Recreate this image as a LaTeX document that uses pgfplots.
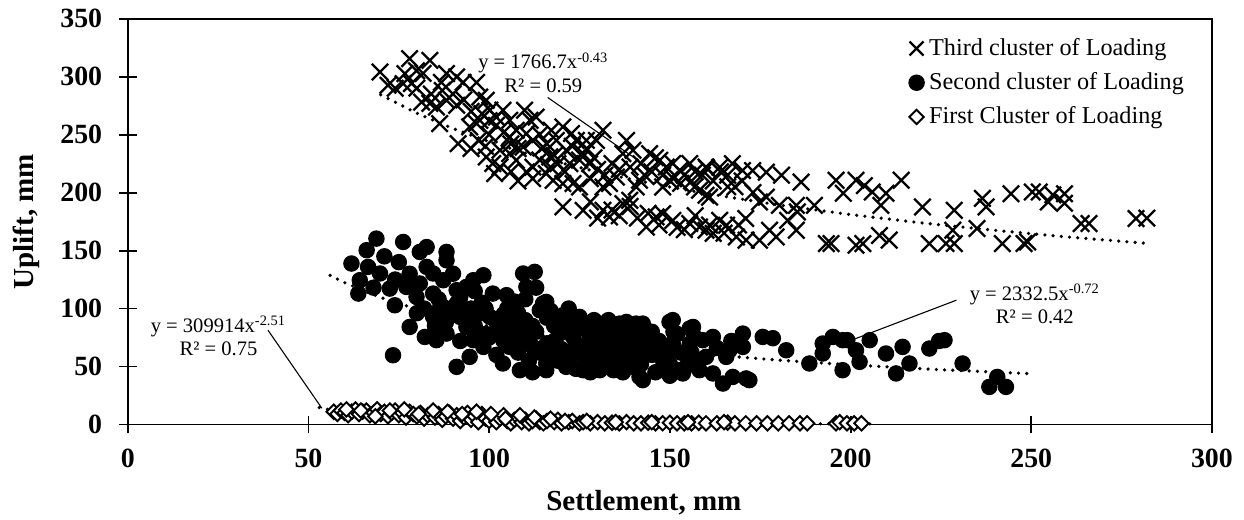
\documentclass[border=0pt]{standalone}
\usepackage{fontspec}
\setmainfont{Liberation Serif}
\usepackage{pgfplots}
\pgfplotsset{compat=1.18}
\begin{document}
\begin{tikzpicture}
\useasboundingbox (-52.8pt,-39.1pt) rectangle (461.25pt,175.4pt);
\begin{axis}[
 at={(0pt,0pt)}, anchor=south west,
 scale only axis, width=448pt, height=167.7pt,
 xmin=0,xmax=300,ymin=0,ymax=350,
 xtick={0,50,...,300}, ytick={0,50,...,350},
 tick pos=left, tick align=center, major tick length=7.3pt,
 axis line style={line width=0.8pt},
 every tick/.style={line width=0.8pt, black},
 /pgf/number format/assume math mode=true,
 ticklabel style={font=\fontsize{11.5}{13}\selectfont\bfseries},
 xticklabel style={yshift=-3.0pt},
 yticklabel style={xshift=-3.4pt},
 xlabel={Settlement, mm}, ylabel={Uplift, mm},
 label style={font=\fontsize{12}{14}\selectfont\bfseries},
 xlabel style={at={(axis description cs:0.476,-0.2111)}, anchor=base},
 ylabel style={at={(axis description cs:-0.0871,0.5)}, anchor=base},
 legend style={draw=none, fill=none, at={(0.72,0.965)}, anchor=north west,
   font=\fontsize{10}{12}\selectfont, cells={anchor=west}, row sep=1.6pt, inner sep=0pt},
 legend image code/.code={\draw[#1] plot coordinates {(0.1cm,0cm)};},
 clip=false,
]
% leader lines (under markers)
\draw[line width=0.45pt] (axis cs:116.2,282) -- (axis cs:142,226);
\draw[line width=0.45pt] (axis cs:229.3,107.2) -- (axis cs:198,70);
\draw[line width=0.45pt] (axis cs:38.8,81.3) -- (axis cs:53.7,14);

\addplot[only marks, mark=x, mark size=4.8pt, line width=0.95pt, black,
  legend image post style={mark size=4.1pt}] coordinates {
(69.8,304)(76.7,302.6)(78,315.5)(79.9,305)(81.7,302.8)(83.6,314)(88.2,302.6)(91,299.7)
(72,292.5)(76.2,294)(78.5,294)(86.8,295)(92.8,295)(96.5,295)(81.3,278)(83.6,277)
(85.4,273.8)(88.2,279.6)(91,275.3)(86.3,259.5)(91.4,242.2)(97.4,282.4)(99.2,279.6)
(100.2,271)(96.5,259.5)(94.6,256.6)(97.4,262.3)(103.8,271)(105.7,262.3)(109.8,271)
(111.3,262.3)(113,265)(107.5,253.7)(110.3,250.9)(105.7,248)(99.2,230.7)(101,225)
(103,236.5)(101.5,216.4)(105.7,233.6)(109.4,239.3)(112.1,222)(107.5,227.8)(110.3,217.8)
(117.2,253.7)(120.4,256.6)(122.8,250.9)(118.6,245)(124.1,245)(126.9,245)(129.7,245)
(131.5,253.7)(121.3,236.5)(116.8,230.7)(114.9,239.3)(125.9,233.6)(127.8,225)(122.3,225)
(115.8,216.4)(117.7,210.6)(120.4,207.8)(123.2,207.8)(125,204.8)(120.4,187.6)(126,184.7)
(131.5,204.8)(133.3,207.8)(131.5,184.7)(133.3,179)(137,190.5)(138.9,193.3)(140.7,204.8)
(141.6,210.6)(135.2,213.4)(138,245)(139.8,236.5)(137,233.6)(144.4,233.6)(147.2,227.8)
(149,222)(150.8,225)(152.7,219.2)(155.5,225)(149.9,210.6)(148,204.8)(146.2,179)
(143.5,170.3)(148,181.9)(150.8,176)(155.5,173.3)(158.2,170.3)(158.2,202)(160,222)
(156.8,204.8)
(160.2,221)(163.8,221.8)(167.3,225)(170.1,219)(172.9,219)(176.7,217.5)(180.9,215)
(186.3,209)(196,210.6)(198,199.4)(201.5,210.6)(203.8,206)(206,200.5)(209.8,199.4)
(208.4,189)(214,210.6)(219.9,187.6)(228.7,184.7)(236.5,195)(237.5,187.6)(244.4,199)
(250.3,200.5)(252.2,200.5)(256,198)(259.2,199)(259.2,190.8)(254.7,191.9)(263.8,173.3)
(266,173.3)(279,177.6)(282,178)(193.3,156)(194.6,156)(201.5,154.6)(203.4,156)(208,163)
(210.7,159)(221.8,156)(226.4,156)(228.7,156)(228.3,167.5)(235,169)(242,156)(248,156)
(249,157.4)(160,167.5)(162,164.8)(163.8,176)(165.7,171.8)(168.4,161.7)(171,177.6)
(171.1,158.9)(174.8,158.9)(177.6,167.5)(179.4,161.7)(182.6,176)(185,167.5)(185.3,183.3)
(174.8,191.9)(176.7,196)(180.3,189)(185,189)(190,189)(161,196)(160,197.7)
(74,290)(80,290)(84,285)(87,288)(90,285)(93,280)(95,270)(98,268)(102,258)(104,252)
(106,242)(108,238)(112,245)(114,250)(116,242)(118,232)(119,225)(121,218)(123,240)
(125,228)(127,238)(128,212)(129,230)(130,220)(132,215)(134,225)(136,220)(139,222)
(142,225)(143,215)(145,218)(146,230)(148,215)(151,212)(153,208)(154,215)(156,210)
(157,218)(159,215)(162,210)(164,218)(166,215)(168,205)(103,222)(106,218)(108,210)
(112,212)(114,228)(117,222)(128,192)(130,178)(134,185)(136,180)(139,188)(141,178)
(144,182)(147,172)(152,170)(154,168)(157,180)(161,172)(165,165)(169,172)(166,205)
(170,210)(173,200)(100,262)(102,265)(100,250)(97,245)(95,238)(99,240)
};
\addlegendentry{Third cluster of Loading}

\addplot[only marks, mark=*, mark size=3.2pt, black] coordinates {
(68.8,160.3)(76.2,157.4)(82.7,153)(80.8,148.8)(88.2,148.8)(88.2,141.6)(66.1,150.3)
(61.9,138.8)(66.5,135.9)(69.8,130.2)(64.2,124.4)(63.8,112.9)(72.5,117.2)(73.9,102.8)
(77.1,118.6)(80.8,121.6)(82.7,135.9)(84.5,130.2)(87.3,124.4)(84.5,112.9)(79.9,110)
(78,84.1)(73.4,59.7)(82.2,75.5)(85.4,72.7)(88.2,78.4)(84.5,92.8)(87.3,101.4)(91,115.8)
(93.7,118.6)(95.6,124.4)(98.4,128.7)(91,104.3)(91.9,92.8)(93.7,84.1)(91,49.7)(94.6,58.3)
(95.6,72.7)(98.4,66.9)(97.4,95.7)(101,112.9)(104.8,111.5)(100.2,92.8)(103,81.3)
(103.8,52.6)(108.5,46.8)(105.7,66.9)(109.4,130.2)(112.6,131.6)(110.3,118.6)(114,98.5)
(115.8,105.7)(107.5,87)(110.3,78.4)(112.1,66.9)(115.8,52.6)(115.8,46.8)(119.5,89.9)
(121.3,89.9)(125,92.8)(119.5,78.4)(123.2,75.5)(126.9,81.3)(129.7,84.1)(132.4,81.3)
(130.6,69.8)(133.3,72.7)(136.1,87)(139,84.1)(121.3,49.7)(126,46.8)(130.6,46.8)
(134.4,46.8)(127.8,58.3)(132.4,58.3)(118.6,61.2)(139.8,52.6)(114.9,104.3)(120.4,94.2)
(130.6,87)(138,88.4)(142.5,87)(149.9,88.4)(156.4,84.1)(161.9,75.5)(170.2,78.4)
(175.7,75.5)(178.5,74.4)(136.1,66.9)(141.6,64)(146.2,66.9)(150.8,69.8)(155.5,69.8)
(160,58.3)(165.6,58.3)(170.2,66.9)(134.3,49.7)(139.8,49.7)(142.5,38.2)(148.1,46.8)
(152.7,46.8)(158.2,46.8)(164.7,35.3)(167.4,41)(172,38.2)(161.9,44)(140.7,87)(142.5,64)
(141.6,41)(150.8,90)(155.5,82.8)(159.1,72.7)(148.1,55.4)(153.6,44)(166.5,64)(171.1,39.7)
(182.2,64)(188.6,52.6)(192.3,69.8)(195.1,75.5)(197.8,72.7)(192.3,61.2)(197.8,46.8)
(201.5,64)(202.5,54)(205.3,72.7)(209.8,61.2)(212.6,44)(214.4,66.9)(216.3,52.6)
(221.8,65.5)(226,72.7)(231,52.6)(238.4,32.4)(243,32.4)(240.6,41)(199.1,72.7)(224.5,72)
(100,75)(102,60)(104,95)(106,78)(108,62)(110,90)(111,55)(113,80)(116,70)(117,58)
(118,85)(120,65)(122,55)(124,70)(126,60)(128,75)(129,52)(131,62)(133,90)(135,58)
(137,75)(138,62)(140,70)(142,52)(144,78)(145,60)(147,72)(149,58)(151,80)(153,62)
(155,52)(157,75)(112,45)(128,45)(137,45)(146,45)(150,42)(154,48)(105,100)(98,105)
(95,100)(92,72)(89,95)(86,98)(80,96)(85,85)(82,100)(88,88)(107,106)(96,85)(99,78)
(96,115)(99,100)(102,88)(104,72)(106,90)(109,70)(112,85)(114,62)(116,92)(118,72)
(121,82)(123,62)(125,84)(127,68)(129,90)(131,75)(134,64)(136,78)(138,56)(140,78)
(143,72)(145,80)(148,64)(150,52)(152,78)(156,62)(158,54)(163,66)(167,72)(110,108)
(113,118)(108,96)(119,55)(124,48)(132,50)(117,98)(122,100)(86,108)(90,130)(92,110)
(94,96)(78,130)(75,140)(71,145)(74,125)(68,118)
};
\addlegendentry{Second cluster of Loading}

\addplot[only marks, mark=square*, mark size=2.1pt, mark options={rotate=45, fill=white, draw=black, line width=0.8pt}] coordinates {
(57,11)(58,9)(59,12)(60,10)(61,8)(62,11)(63,13)(64,9)(65,11)(66,12)(67,8)(68,10)(69,13)
(70,9)(71,11)(72,7)(73,10)(74,12)(75,8)(76,10)(77,6)(78,11)(79,9)(80,7)(81,10)(82,5)
(83,8)(84,10)(85,6)(86,9)(87,4)(88,7)(89,10)(90,5)(91,8)(92,3)(93,6)(94,10)(95,4)(96,7)
(97,2)(98,9)(99,5)(100,3)(101,7)(102,2)(103,5)(104,8)(105,3)(106,1)(107,4)(108,6)
(109,2)(110,4)(111,1)(112,3)(113,5)(114,2)(115,1)(116,3)(118,2)(119,4)(120,1)(122,2)
(123,3)(125,1)(126,2)(128,1)(130,2)(132,1)(134,1.5)(136,1)(138,2)(140,1)(142,1)
(144,1.5)(146,1)(148,1)(150,1.5)(152,1)(154,1)(156,1)(158,1.5)(160,1)(163,1)(166,1.5)
(168,1)(171,1)(174,1)(177,1)(180,1)(183,1)(186,1)(188,1)(196,1)(197,2)(199,1)(201,1)(203,1)
(60.5,13)(64.5,12)(68.5,7)(72.5,12)(76.5,13)(80.5,9)(84.5,12)(88.5,11)(92.5,9)(96.5,11)
(100.5,9)(104.5,5)(108.5,8)(112.5,6)(117,5)(121,3)(127,3)(135,2)(145,2)(155,2)(165,2)
};
\addlegendentry{First Cluster of Loading}

% power trendlines (values of the fitted curves)
\addplot[forget plot, black, line width=1.5pt, line cap=round, dash pattern=on 0pt off 3.4pt] coordinates {
(70,284.3)(80,268.4)(90,255.2)(100,243.9)(110,234.1)(120,225.5)(130,217.8)(140,211.0)
(150,204.8)(160,199.2)(180,189.4)(200,181.0)(220,173.7)(240,167.4)(260,161.7)(282,156.2)};
\addplot[forget plot, black, line width=1.5pt, line cap=round, dash pattern=on 0pt off 3.4pt] coordinates {
(56,128.6)(60,122.3)(70,109.5)(80,99.4)(90,91.4)(100,84.7)(120,74.3)(140,66.5)
(160,60.4)(180,55.5)(200,51.4)(225,47.2)(250,43.8)};
\addplot[forget plot, black, line width=1.5pt, line cap=round, dash pattern=on 0pt off 3.4pt] coordinates {
(53,14.57)(55,13.28)(60,10.68)(65,8.71)(70,7.24)(80,5.18)(90,3.85)(100,2.96)
(120,1.87)(140,1.27)(160,0.91)(180,0.68)(207,0.48)};

\node[font=\fontsize{8.5}{9.6}\selectfont, align=center, inner sep=0pt] at (axis cs:115,303.6)
  {y = 1766.7x\textsuperscript{-0.43}\\R² = 0.59};
\node[font=\fontsize{8.5}{9.6}\selectfont, align=center, inner sep=0pt] at (axis cs:251,103.8)
  {y = 2332.5x\textsuperscript{-0.72}\\R² = 0.42};
\node[font=\fontsize{8.5}{9.6}\selectfont, align=center, inner sep=0pt] at (axis cs:25.1,76.5)
  {y = 309914x\textsuperscript{-2.51}\\R² = 0.75};
\end{axis}
\end{tikzpicture}
\end{document}
